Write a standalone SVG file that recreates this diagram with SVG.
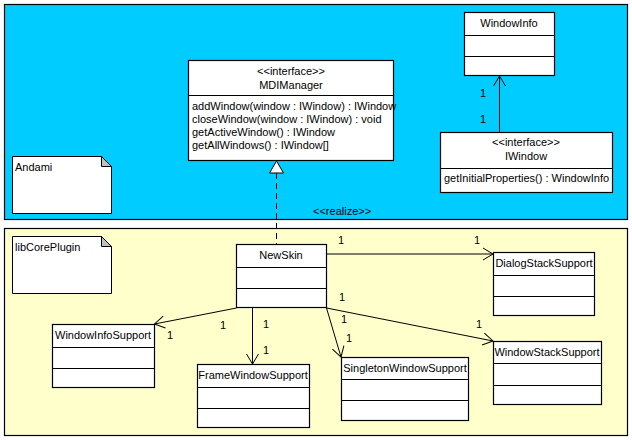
<svg xmlns="http://www.w3.org/2000/svg" width="632" height="440" viewBox="0 0 632 440">
<style>
text{font-family:"Liberation Sans",Arial,sans-serif;font-size:11px;fill:#000}
.c{text-anchor:middle}
.box{fill:#fff;stroke:#000;stroke-width:1.2}
.ln{stroke:#000;stroke-width:1;fill:none}
.note{fill:#fff;stroke:#000;stroke-width:1}
.fold{fill:#c0c0c0;stroke:#000;stroke-width:1}
</style>
<defs>
<marker id="open" markerWidth="14" markerHeight="14" refX="0" refY="0" viewBox="-12 -7 14 14" orient="auto" markerUnits="userSpaceOnUse">
<path d="M-10,-6 L0,0 L-10,6" fill="none" stroke="#000" stroke-width="1"/>
</marker>
</defs>
<g id="pkg-andami">
<rect x="4.5" y="4.5" width="623" height="215" fill="#00ccff" stroke="#000" stroke-width="1.2"/>
</g>
<g id="pkg-libcore">
<rect x="4.5" y="228.5" width="623" height="207" fill="#ffffcc" stroke="#000" stroke-width="1.2"/>
</g>
<g id="note-andami">
<path class="note" d="M12.5,156.5 H101.5 L111.5,166.5 V213.5 H12.5 Z"/>
<path class="fold" d="M101.5,156.5 V166.5 H111.5 Z"/>
<text x="15" y="171">Andami</text>
</g>
<g id="note-libcore">
<path class="note" d="M12.5,236.5 H101.5 L111.5,246.5 V293.5 H12.5 Z"/>
<path class="fold" d="M101.5,236.5 V246.5 H111.5 Z"/>
<text x="15" y="251">libCorePlugin</text>
</g>
<g id="MDIManager">
<rect class="box" x="188.5" y="60.5" width="205" height="100"/>
<line class="ln" x1="188.5" y1="95.5" x2="393.5" y2="95.5"/>
<text class="c" x="291" y="75">&lt;&lt;interface&gt;&gt;</text>
<text class="c" x="291" y="89">MDIManager</text>
<text x="192" y="110">addWindow(window : IWindow) : IWindow</text>
<text x="192" y="123">closeWindow(window : IWindow) : void</text>
<text x="192" y="136">getActiveWindow() : IWindow</text>
<text x="192" y="149">getAllWindows() : IWindow[]</text>
</g>
<g id="WindowInfo">
<rect class="box" x="464.5" y="12.5" width="90" height="63"/>
<line class="ln" x1="464.5" y1="35.5" x2="554.5" y2="35.5"/>
<line class="ln" x1="464.5" y1="56.5" x2="554.5" y2="56.5"/>
<text class="c" x="509" y="27">WindowInfo</text>
</g>
<g id="IWindow">
<rect class="box" x="440.5" y="132.5" width="172" height="60"/>
<line class="ln" x1="440.5" y1="168.5" x2="612.5" y2="168.5"/>
<text class="c" x="526" y="146">&lt;&lt;interface&gt;&gt;</text>
<text class="c" x="526" y="160">IWindow</text>
<text x="444" y="182">getInitialProperties() : WindowInfo</text>
</g>
<g id="NewSkin">
<rect class="box" x="236.5" y="244.5" width="90" height="63"/>
<line class="ln" x1="236.5" y1="267.5" x2="326.5" y2="267.5"/>
<line class="ln" x1="236.5" y1="288.5" x2="326.5" y2="288.5"/>
<text class="c" x="281" y="259">NewSkin</text>
</g>
<g id="DialogStackSupport">
<rect class="box" x="493.5" y="252.5" width="101" height="63"/>
<line class="ln" x1="493.5" y1="275.5" x2="594.5" y2="275.5"/>
<line class="ln" x1="493.5" y1="296.5" x2="594.5" y2="296.5"/>
<text class="c" x="544" y="267">DialogStackSupport</text>
</g>
<g id="WindowInfoSupport">
<rect class="box" x="52.5" y="324.5" width="102" height="63"/>
<line class="ln" x1="52.5" y1="347.5" x2="154.5" y2="347.5"/>
<line class="ln" x1="52.5" y1="368.5" x2="154.5" y2="368.5"/>
<text class="c" x="103" y="339">WindowInfoSupport</text>
</g>
<g id="FrameWindowSupport">
<rect class="box" x="197.5" y="364.5" width="112" height="63"/>
<line class="ln" x1="197.5" y1="387.5" x2="309.5" y2="387.5"/>
<line class="ln" x1="197.5" y1="408.5" x2="309.5" y2="408.5"/>
<text class="c" x="253" y="379">FrameWindowSupport</text>
</g>
<g id="SingletonWindowSupport">
<rect class="box" x="341.5" y="357.5" width="127" height="63"/>
<line class="ln" x1="341.5" y1="379.5" x2="468.5" y2="379.5"/>
<line class="ln" x1="341.5" y1="400.5" x2="468.5" y2="400.5"/>
<text class="c" x="405" y="372">SingletonWindowSupport</text>
</g>
<g id="WindowStackSupport">
<rect class="box" x="493.5" y="341.5" width="108" height="63"/>
<line class="ln" x1="493.5" y1="363.5" x2="601.5" y2="363.5"/>
<line class="ln" x1="493.5" y1="385.5" x2="601.5" y2="385.5"/>
<text class="c" x="547" y="356">WindowStackSupport</text>
</g>
<g id="connectors">
<line class="ln" x1="276.5" y1="173" x2="276.5" y2="244" stroke-dasharray="6,4"/>
<path d="M276.5,161 L283.5,173 L269.5,173 Z" fill="#fff" stroke="#000" stroke-width="1"/>
<text x="313" y="215">&lt;&lt;realize&gt;&gt;</text>
<line class="ln" x1="499.5" y1="132" x2="499.5" y2="76" marker-end="url(#open)"/>
<text x="480" y="97">1</text>
<text x="480" y="123">1</text>
<line class="ln" x1="326.5" y1="254" x2="493" y2="254" marker-end="url(#open)"/>
<text x="338" y="244">1</text>
<text x="474" y="244">1</text>
<line class="ln" x1="326.5" y1="308" x2="493" y2="341" marker-end="url(#open)"/>
<text x="339" y="301">1</text>
<text x="476" y="328">1</text>
<line class="ln" x1="326.5" y1="308" x2="341" y2="357" marker-end="url(#open)"/>
<text x="341" y="323">1</text>
<text x="346" y="342">1</text>
<line class="ln" x1="252.5" y1="308" x2="252.5" y2="364" marker-end="url(#open)"/>
<text x="263" y="328">1</text>
<text x="263" y="354">1</text>
<line class="ln" x1="236.5" y1="308" x2="154.5" y2="324" marker-end="url(#open)"/>
<text x="220" y="329">1</text>
<text x="167" y="339">1</text>
</g>
</svg>
